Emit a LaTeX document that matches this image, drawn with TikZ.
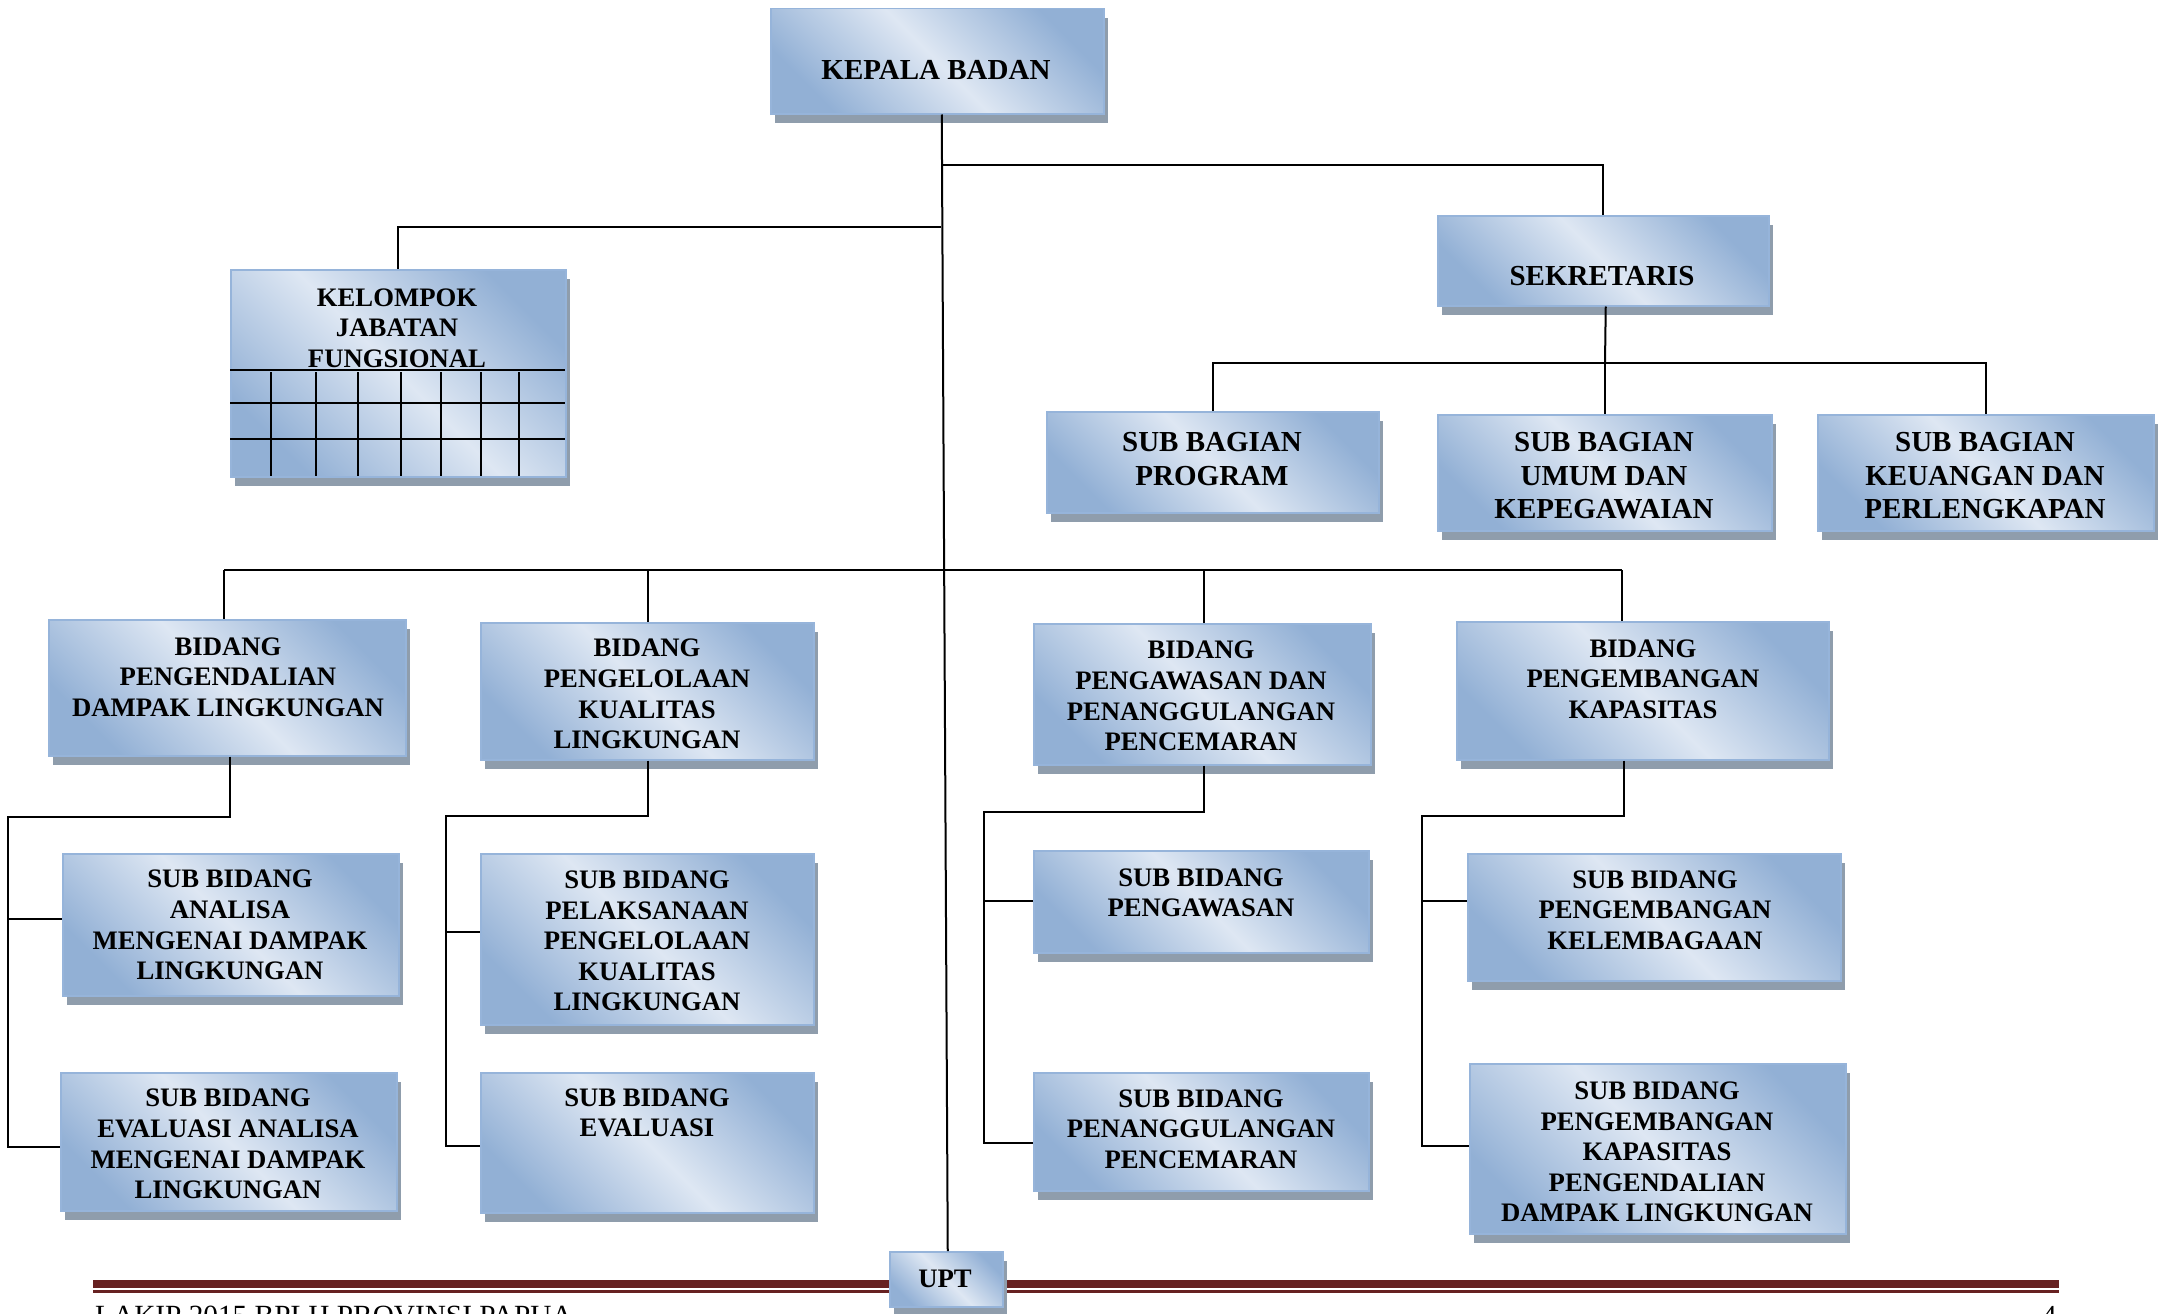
\documentclass[tikz,border=0pt]{standalone}
\usepackage{fontspec}
\setmainfont{Liberation Serif}
\usetikzlibrary{shadows}
\definecolor{bxlight}{RGB}{222,231,243}
\definecolor{bxdark}{RGB}{146,176,213}
\definecolor{bxline}{RGB}{150,180,218}
\definecolor{shcol}{RGB}{143,157,172}
\definecolor{footred}{RGB}{103,33,33}
\newcommand\fbig{\fontsize{29}{33.5}\selectfont}
\newcommand\fsml{\fontsize{26.7}{30.6}\selectfont}
\newcommand\obox[5]{\node[box, minimum width={(#4-#2)*1pt}, minimum height={(#5-#3)*1pt}] (#1) at (#2,#3) {};}
\begin{document}
\begin{tikzpicture}[x=1pt,y=-1pt,
  box/.style={draw=bxline, line width=1.5pt, top color=bxdark, bottom color=bxdark, middle color=bxlight, shading angle=-45,
    drop shadow={shadow xshift=4pt, shadow yshift=-9pt, fill=shcol, opacity=1}, inner sep=0pt, anchor=north west},
  lbl/.style={align=center, font=\bfseries\fsml, inner sep=0pt},
  lblbig/.style={align=center, font=\bfseries\fbig, inner sep=0pt},
  conn/.style={line width=2pt, black}]
\useasboundingbox (0,0) rectangle (2158,1314);
% footer
\fill[footred] (93,1280) rectangle (2059,1288);
\fill[footred] (93,1290) rectangle (2059,1292.5);
\node[anchor=north west, inner sep=0pt, font=\fontsize{29.3}{33}\selectfont] (foot) at (95,1306) {LAKIP 2015 BPLH PROVINSI PAPUA};
\node[anchor=north west, inner sep=0pt, font=\fontsize{29}{33}\selectfont] (pagenum) at (2042,1306) {4};
% boxes
\obox{kepala}{770}{8}{1103}{113}
\obox{kelompok}{230}{269}{565}{476}
\obox{sekretaris}{1437}{215}{1768}{305}
\obox{program}{1046}{411}{1378}{512}
\obox{umum}{1437}{414}{1771}{530}
\obox{keuangan}{1817}{414}{2153}{530}
\obox{pengendalian}{48}{619}{405}{755}
\obox{pengelolaan}{480}{622}{813}{759}
\obox{pengawasan}{1033}{623}{1370}{764}
\obox{pengembangan}{1456}{621}{1828}{759}
\obox{analisa}{62}{853}{398}{995}
\obox{evalanalisa}{60}{1072}{396}{1210}
\obox{pelaksanaan}{480}{853}{813}{1024}
\obox{evaluasi}{480}{1072}{813}{1212}
\obox{sbpengawasan}{1033}{850}{1368}{952}
\obox{penanggulangan}{1033}{1072}{1368}{1190}
\obox{kelembagaan}{1467}{853}{1840}{980}
\obox{kapasitas}{1469}{1063}{1845}{1233}
\obox{upt}{889}{1251}{1002}{1306}
% grid in kelompok
\foreach \yy in {370,403,439} \draw[conn] (230,\yy) -- (565,\yy);
\foreach \xx in {271,316,358,401,441,481,519} \draw[conn] (\xx,372) -- (\xx,476);
% labels
\node[lblbig] (kepalaL) at (936,70) {KEPALA BADAN};
\node[lbl] (kelompokL) at (397,328) {KELOMPOK\\JABATAN\\FUNGSIONAL};
\node[lblbig] (sekretarisL) at (1602,276) {SEKRETARIS};
\node[lblbig] (programL) at (1212,459) {SUB BAGIAN\\PROGRAM};
\node[lblbig] (umumL) at (1604,476) {SUB BAGIAN\\UMUM DAN\\KEPEGAWAIAN};
\node[lblbig] (keuanganL) at (1985,476) {SUB BAGIAN\\KEUANGAN DAN\\PERLENGKAPAN};
\node[lbl] (pengendalianL) at (228,677) {BIDANG\\PENGENDALIAN\\DAMPAK LINGKUNGAN};
\node[lbl] (pengelolaanL) at (647,694) {BIDANG\\PENGELOLAAN\\KUALITAS\\LINGKUNGAN};
\node[lbl] (pengawasanL) at (1201,696) {BIDANG\\PENGAWASAN DAN\\PENANGGULANGAN\\PENCEMARAN};
\node[lbl] (pengembanganL) at (1643,679) {BIDANG\\PENGEMBANGAN\\KAPASITAS};
\node[lbl] (analisaL) at (230,925) {SUB BIDANG\\ANALISA\\MENGENAI DAMPAK\\LINGKUNGAN};
\node[lbl] (evalanalisaL) at (228,1144) {SUB BIDANG\\EVALUASI ANALISA\\MENGENAI DAMPAK\\LINGKUNGAN};
\node[lbl] (pelaksanaanL) at (647,941) {SUB BIDANG\\PELAKSANAAN\\PENGELOLAAN\\KUALITAS\\LINGKUNGAN};
\node[lbl] (evaluasiL) at (647,1113) {SUB BIDANG\\EVALUASI};
\node[lbl] (sbpengawasanL) at (1201,893) {SUB BIDANG\\PENGAWASAN};
\node[lbl] (penanggulanganL) at (1201,1129) {SUB BIDANG\\PENANGGULANGAN\\PENCEMARAN};
\node[lbl] (kelembagaanL) at (1655,910) {SUB BIDANG\\PENGEMBANGAN\\KELEMBAGAAN};
\node[lbl] (kapasitasL) at (1657,1152) {SUB BIDANG\\PENGEMBANGAN\\KAPASITAS\\PENGENDALIAN\\DAMPAK LINGKUNGAN};
\node[lbl] (uptL) at (945,1279) {UPT};
% connectors
\draw[conn] ([xshift=4.5pt]kepala.south) -- ([xshift=1.5pt]upt.north);
\coordinate (jS) at (941,165);
\coordinate (jK) at (941,227);
\draw[conn] (jS) -| (sekretaris.north);
\draw[conn] (jK) -| (kelompok.north);
\coordinate (jSB) at (1605,363);
\draw[conn] ([xshift=2.5pt]sekretaris.south) -- (jSB);
\draw[conn] (program.north) |- (jSB) -| (keuangan.north);
\draw[conn] (jSB) -- (jSB |- umum.north);
\coordinate (jB1) at (224,570);
\coordinate (jB2) at (648,570);
\coordinate (jB3) at (1204,570);
\coordinate (jB4) at (1622,570);
\draw[conn] (jB1) -- (jB4);
\draw[conn] (jB1) -- (jB1 |- pengendalian.north);
\draw[conn] (jB2) -- (jB2 |- pengelolaan.north);
\draw[conn] (jB3) -- (jB3 |- pengawasan.north);
\draw[conn] (jB4) -- (jB4 |- pengembangan.north);
% pengendalian branch
\coordinate (a1) at (230,817); \coordinate (a2) at (8,817); \coordinate (a3) at (8,919); \coordinate (a4) at (8,1147);
\draw[conn] (a1 |- pengendalian.south) -- (a1) -- (a2) -- (a4) -- (a4 -| evalanalisa.west);
\draw[conn] (a3) -- (a3 -| analisa.west);
% pengelolaan branch
\coordinate (b1) at (648,816); \coordinate (b2) at (446,816); \coordinate (b3) at (446,932); \coordinate (b4) at (446,1146);
\draw[conn] (b1 |- pengelolaan.south) -- (b1) -- (b2) -- (b4) -- (b4 -| evaluasi.west);
\draw[conn] (b3) -- (b3 -| pelaksanaan.west);
% pengawasan branch
\coordinate (c1) at (1204,812); \coordinate (c2) at (984,812); \coordinate (c3) at (984,901); \coordinate (c4) at (984,1143);
\draw[conn] (c1 |- pengawasan.south) -- (c1) -- (c2) -- (c4) -- (c4 -| penanggulangan.west);
\draw[conn] (c3) -- (c3 -| sbpengawasan.west);
% pengembangan branch
\coordinate (d1) at (1624,816); \coordinate (d2) at (1422,816); \coordinate (d3) at (1422,901); \coordinate (d4) at (1422,1146);
\draw[conn] (d1 |- pengembangan.south) -- (d1) -- (d2) -- (d4) -- (d4 -| kapasitas.west);
\draw[conn] (d3) -- (d3 -| kelembagaan.west);
\end{tikzpicture}
\end{document}
